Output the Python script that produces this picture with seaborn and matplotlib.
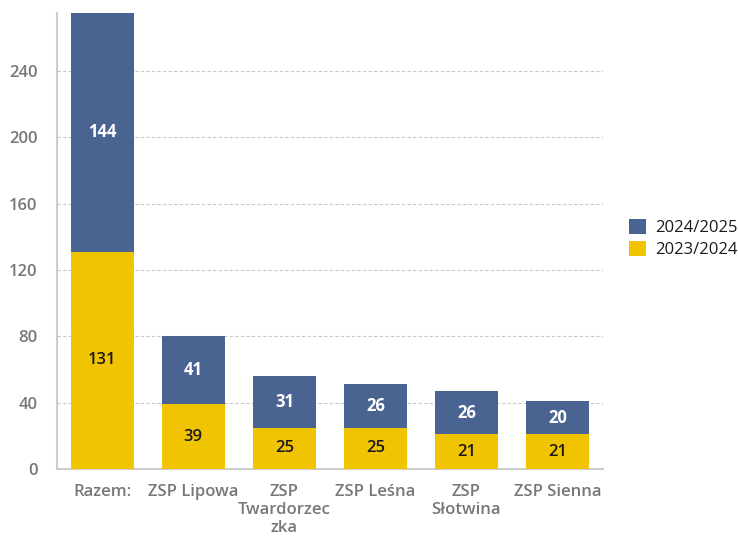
import matplotlib
matplotlib.use("Agg")
import matplotlib.pyplot as plt
import seaborn as sns
import pandas as pd

# Data
categories = ["Razem:", "ZSP Lipowa", "ZSP\nTwardorzec\nzka", "ZSP Leśna", "ZSP\nSłotwina", "ZSP Sienna"]
y2023 = [131, 39, 25, 25, 21, 21]
y2024 = [144, 41, 31, 26, 26, 20]
yticks = [0, 40, 80, 120, 160, 200, 240]

c_blue = "#4a6491"
c_yellow = "#f0c400"

sns.set_style("white")
plt.rcParams["font.family"] = ["Open Sans", "DejaVu Sans"]

fig = plt.figure(figsize=(7.38, 5.37), dpi=100)
ax = fig.add_axes([0.077, 0.1266, 0.74, 0.849])

df = pd.DataFrame({"cat": categories, "a": y2023, "b": y2024})
df["total"] = df["a"] + df["b"]

# stacked: draw totals (blue), then bottom series (yellow) on top
sns.barplot(data=df, x="cat", y="total", color=c_blue, width=0.69, saturation=1,
            ax=ax, label="2024/2025", zorder=3, linewidth=0)
sns.barplot(data=df, x="cat", y="a", color=c_yellow, width=0.69, saturation=1,
            ax=ax, label="2023/2024", zorder=3, linewidth=0)

for i in range(len(categories)):
    ax.text(i, y2023[i] / 2, str(y2023[i]), ha="center", va="center",
            fontsize=12, color="#1a1a1a", fontweight="semibold", zorder=4)
    ax.text(i, y2023[i] + y2024[i] / 2, str(y2024[i]), ha="center", va="center",
            fontsize=12, color="white", fontweight="bold", zorder=4)

ax.set_ylim(0, 275)
ax.set_xlim(-0.5, 5.5)
ax.set_yticks(yticks)
ax.set_xlabel("")
ax.set_ylabel("")
ax.yaxis.grid(True, linestyle=(0, (3, 2)), color="#c8c8c8", linewidth=0.8)
ax.set_axisbelow(True)
ax.tick_params(axis="y", labelsize=12, colors="#777777", length=8, color="#cccccc", pad=6)
ax.tick_params(axis="x", labelsize=12, colors="#777777", length=0, pad=11)
for lbl in ax.get_xticklabels():
    lbl.set_linespacing(1.15)
    lbl.set_fontweight("semibold")
for lbl in ax.get_yticklabels():
    lbl.set_fontweight("semibold")
for s in ["top", "right"]:
    ax.spines[s].set_visible(False)
for s in ["left", "bottom"]:
    ax.spines[s].set_color("#cccccc")
    ax.spines[s].set_linewidth(1.5)

leg = ax.legend(loc="center left", bbox_to_anchor=(1.02, 0.505), frameon=False,
                fontsize=12, handlelength=1.0, handleheight=1.0, handletextpad=0.6,
                labelspacing=0.3)
for t in leg.get_texts():
    t.set_color("#1a1a1a")

fig.savefig("out.png", dpi=100)
